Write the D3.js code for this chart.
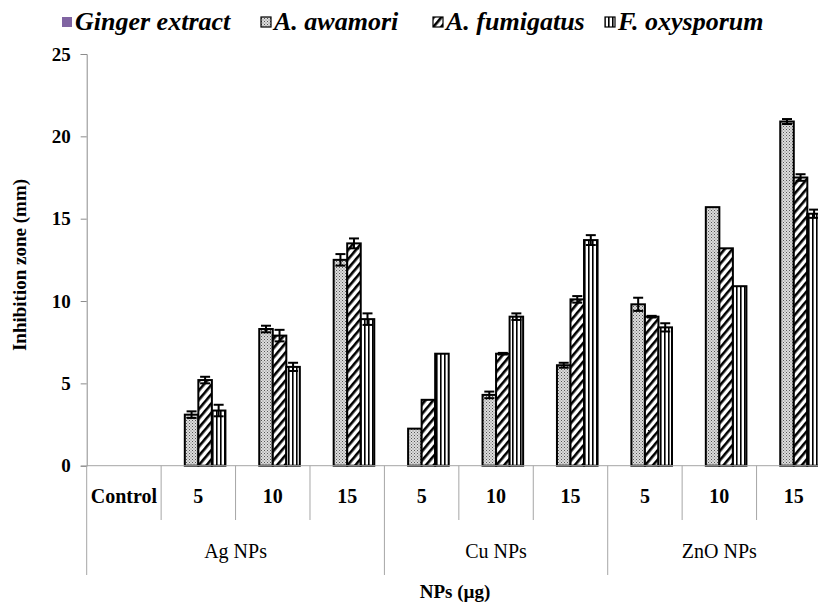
<!doctype html>
<html>
<head>
<meta charset="utf-8">
<title>Inhibition zone</title>
<script src="https://d3js.org/d3.v7.min.js"></script>
<style>
  body { margin: 0; background: #fff; }
  svg text { font-family: "Liberation Serif", Tinos, "Times New Roman", Times, serif !important; }
</style>
</head>
<body>
<script>
// data
const categories = ["Control", "5", "10", "15", "5", "10", "15", "5", "10", "15"];
const groups = ["Ag NPs", "Cu NPs", "ZnO NPs"];
const groupStart = [0, 4, 7];
const groupEnd = [3, 6, 9];
const seriesNames = ["Ginger extract", "A. awamori", "A. fumigatus", "F. oxysporum"];

const ginger    = [0, 0, 0, 0, 0, 0, 0, 0, 0, 0];
const awamori   = [0, 3.1, 8.3, 12.5, 2.25, 4.3, 6.1, 9.8, 15.7, 20.9];
const fumigatus = [0, 5.2, 7.9, 13.5, 4.0, 6.8, 10.1, 9.05, 13.2, 17.5];
const oxysporum = [0, 3.35, 6.0, 8.9, 6.8, 9.05, 13.7, 8.4, 10.9, 15.3];

const errGinger    = [0, 0, 0, 0, 0, 0, 0, 0, 0, 0];
const errAwamori   = [0, 0.2, 0.2, 0.35, 0, 0.2, 0.15, 0.4, 0, 0.15];
const errFumigatus = [0, 0.2, 0.35, 0.3, 0, 0.05, 0.2, 0.05, 0, 0.2];
const errOxysporum = [0, 0.35, 0.25, 0.35, 0, 0.2, 0.3, 0.25, 0, 0.25];

const yTicks = [0, 5, 10, 15, 20, 25];

const values = [ginger, awamori, fumigatus, oxysporum];
const errors = [errGinger, errAwamori, errFumigatus, errOxysporum];

const FONT = '"Liberation Serif"';

const W = 818, H = 602;
const svg = d3.select("body").append("svg")
  .attr("width", W).attr("height", H);

// fill patterns
const defs = svg.append("defs");
const dots = defs.append("pattern").attr("id", "dots")
  .attr("patternUnits", "userSpaceOnUse").attr("width", 3).attr("height", 3);
dots.append("rect").attr("width", 3).attr("height", 3).attr("fill", "#dcdcdc");
dots.append("rect").attr("x", 0).attr("y", 0).attr("width", 1).attr("height", 1).attr("fill", "#555");
dots.append("rect").attr("x", 1.5).attr("y", 1.5).attr("width", 1).attr("height", 1).attr("fill", "#777");

const diag = defs.append("pattern").attr("id", "diag")
  .attr("patternUnits", "userSpaceOnUse").attr("width", 6).attr("height", 6)
  .attr("patternTransform", "rotate(40)");
diag.append("rect").attr("width", 6).attr("height", 6).attr("fill", "#fff");
diag.append("rect").attr("width", 2.6).attr("height", 6).attr("fill", "#000");

const vert = defs.append("pattern").attr("id", "vert")
  .attr("patternUnits", "userSpaceOnUse").attr("width", 4).attr("height", 4);
vert.append("rect").attr("width", 4).attr("height", 4).attr("fill", "#fff");
vert.append("rect").attr("width", 1.6).attr("height", 4).attr("fill", "#000");

const fills = ["#8064a2", "url(#dots)", "url(#diag)", "url(#vert)"];

// scales
const x0 = 86.7, xEnd = 831;
const y = d3.scaleLinear().domain([0, 25]).range([465.7, 54]);
const x = d3.scaleBand().domain(d3.range(categories.length))
  .range([x0, xEnd]).paddingInner(0).paddingOuter(0);
const xs = d3.scaleBand().domain(d3.range(seriesNames.length))
  .range([0, x.bandwidth()]).paddingInner(0).paddingOuter(0.75);

// y axis
const yAxis = d3.axisLeft(y).tickValues(yTicks).tickSize(6).tickPadding(10);
const gy = svg.append("g").attr("transform", `translate(${x0},0)`).call(yAxis);
gy.attr("font-family", null);
gy.select(".domain").attr("stroke", "#8c8c8c").attr("stroke-width", 1);
gy.selectAll(".tick line").attr("stroke", "#8c8c8c");
gy.selectAll(".tick text")
  .style("font-family", FONT).style("font-size", "19px").style("font-weight", "bold")
  .attr("fill", "#000");

svg.append("text")
  .attr("transform", "translate(26,265) rotate(-90)")
  .attr("text-anchor", "middle")
  .style("font-family", FONT).style("font-size", "19px").style("font-weight", "bold")
  .text("Inhibition zone (mm)");

// bars
const barData = [];
seriesNames.forEach((s, si) => {
  categories.forEach((c, ci) => {
    barData.push({ si, ci, v: values[si][ci], e: errors[si][ci] });
  });
});
const shown = barData.filter(d => d.v > 0);

svg.append("g").selectAll("rect")
  .data(shown).join("rect")
  .attr("x", d => x(d.ci) + xs(d.si))
  .attr("y", d => y(d.v))
  .attr("width", xs.bandwidth())
  .attr("height", d => y(0) - y(d.v))
  .attr("fill", d => fills[d.si])
  .attr("stroke", "#000").attr("stroke-width", 2);

// error bars
const eb = svg.append("g").attr("stroke", "#000").attr("stroke-width", 2);
shown.filter(d => d.e > 0).forEach(d => {
  const cx = x(d.ci) + xs(d.si) + xs.bandwidth() / 2;
  const top = y(d.v + d.e), bot = y(d.v - d.e);
  eb.append("line").attr("x1", cx).attr("x2", cx).attr("y1", top).attr("y2", bot);
  eb.append("line").attr("x1", cx - 5).attr("x2", cx + 5).attr("y1", top).attr("y2", top);
  eb.append("line").attr("x1", cx - 5).attr("x2", cx + 5).attr("y1", bot).attr("y2", bot);
});

// x axis baseline and category table
const grid = svg.append("g").attr("stroke", "#a6a6a6").attr("stroke-width", 1);
grid.append("line").attr("x1", x0).attr("x2", W).attr("y1", y(0)).attr("y2", y(0));
d3.range(categories.length).forEach(i => {
  const isGroup = groupStart.includes(i);
  grid.append("line")
    .attr("x1", x(i)).attr("x2", x(i))
    .attr("y1", y(0)).attr("y2", isGroup ? 575 : 520);
});

svg.append("g").selectAll("text")
  .data(categories).join("text")
  .attr("x", (d, i) => x(i) + x.bandwidth() / 2)
  .attr("y", 503)
  .attr("text-anchor", "middle")
  .style("font-family", FONT).style("font-size", "20px").style("font-weight", "bold")
  .text(d => d);

svg.append("g").selectAll("text")
  .data(groups).join("text")
  .attr("x", (d, i) => (x(groupStart[i]) + x(groupEnd[i]) + x.bandwidth()) / 2)
  .attr("y", 558)
  .attr("text-anchor", "middle")
  .style("font-family", FONT).style("font-size", "20px")
  .text(d => d);

svg.append("text")
  .attr("x", 455).attr("y", 598)
  .attr("text-anchor", "middle")
  .style("font-family", FONT).style("font-size", "19px").style("font-weight", "bold")
  .text("NPs (µg)");

// legend
const legendX = [62, 261, 433, 605];
const lg = svg.append("g");
seriesNames.forEach((s, i) => {
  lg.append("rect")
    .attr("x", legendX[i]).attr("y", 17).attr("width", 10).attr("height", 10)
    .attr("fill", fills[i])
    .attr("stroke", i === 0 ? "none" : "#000").attr("stroke-width", 1.2);
  lg.append("text")
    .attr("x", legendX[i] + 13).attr("y", 30)
    .style("font-family", FONT).style("font-size", "26px")
    .style("font-weight", "bold").style("font-style", "italic")
    .text(s);
});
</script>
</body>
</html>
